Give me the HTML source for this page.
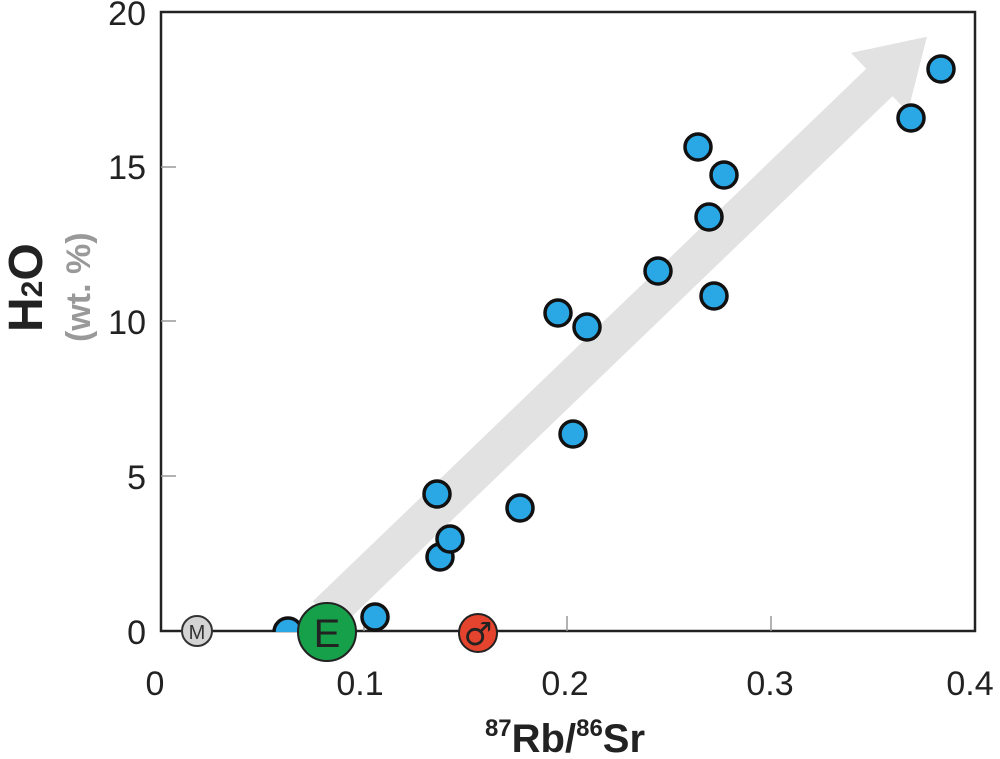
<!DOCTYPE html>
<html><head><meta charset="utf-8"><style>body{margin:0;background:#fff}svg{display:block}</style></head><body>
<svg width="1000" height="759" xmlns="http://www.w3.org/2000/svg" font-family="Liberation Sans, sans-serif">
<defs><clipPath id="c"><rect x="0" y="0" width="1000" height="632"/></clipPath></defs>
<rect width="1000" height="759" fill="#fff"/>
<g transform="translate(326,615) rotate(-43.9)" fill="#e2e2e2">
<rect x="0" y="-19" width="770" height="38"/>
<polygon points="768,-41 834,0 768,41"/>
</g>
<rect x="161" y="12" width="814" height="619" fill="none" stroke="#222" stroke-width="2.5"/>
<g stroke="#999" stroke-width="1.5">
<line x1="161" y1="476" x2="176" y2="476"/><line x1="161" y1="321" x2="176" y2="321"/><line x1="161" y1="167" x2="176" y2="167"/>
<line x1="364" y1="631" x2="364" y2="616"/><line x1="567" y1="631" x2="567" y2="616"/><line x1="771" y1="631" x2="771" y2="616"/>
</g>
<g font-size="34" fill="#222" text-anchor="end">
<text x="146" y="25">20</text><text x="146" y="179">15</text><text x="146" y="334">10</text><text x="146" y="489">5</text><text x="146" y="644">0</text>
</g>
<g font-size="34" fill="#222" text-anchor="middle">
<text x="155" y="695">0</text><text x="360" y="695">0.1</text><text x="565" y="695">0.2</text><text x="770" y="695">0.3</text><text x="970" y="695">0.4</text>
</g>
<text x="565" y="752" font-size="40" font-weight="bold" text-anchor="middle" fill="#222"><tspan font-size="24" dy="-16">87</tspan><tspan dy="16">Rb/</tspan><tspan font-size="24" dy="-16">86</tspan><tspan dy="16">Sr</tspan></text>
<text transform="translate(42,332) rotate(-90)" font-size="48" font-weight="bold" fill="#222">H<tspan font-size="30">2</tspan>O</text>
<text transform="translate(90,342) rotate(-90)" font-size="34" font-weight="bold" fill="#999">(wt. %)</text>
<g fill="#2aa8e6" stroke="#111" stroke-width="3.5">
<circle cx="288" cy="632" r="14" clip-path="url(#c)"/>
<circle cx="375" cy="617" r="13"/>
<circle cx="437" cy="494" r="13"/>
<circle cx="440" cy="557" r="13"/>
<circle cx="450" cy="539" r="13"/>
<circle cx="520" cy="508" r="13"/>
<circle cx="558" cy="313" r="13"/>
<circle cx="587" cy="327" r="13"/>
<circle cx="573" cy="434" r="13"/>
<circle cx="658" cy="271" r="13"/>
<circle cx="698" cy="147" r="13"/>
<circle cx="724" cy="175" r="13"/>
<circle cx="709" cy="217" r="13"/>
<circle cx="714" cy="296" r="13"/>
<circle cx="911" cy="118" r="13"/>
<circle cx="941" cy="69" r="13"/>
</g>
<circle cx="197" cy="631" r="15" fill="#d4d4d4" stroke="#333" stroke-width="2"/>
<text x="197" y="639" font-size="20" text-anchor="middle" fill="#333">M</text>
<circle cx="327" cy="632" r="29" fill="#17a04a" stroke="#222" stroke-width="2"/>
<text x="327" y="647" font-size="40" text-anchor="middle" fill="#222">E</text>
<circle cx="478" cy="633" r="19" fill="#e4432d" stroke="#222" stroke-width="2"/>
<text x="478" y="645" font-size="32" text-anchor="middle" fill="#222" font-family="DejaVu Sans, sans-serif">♂</text>
</svg>
</body></html>
